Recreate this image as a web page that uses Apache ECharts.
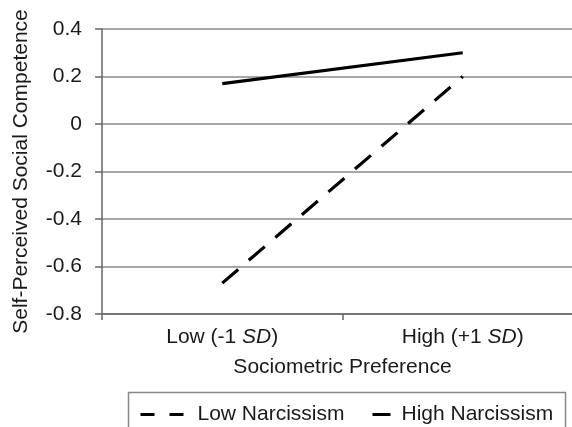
<!DOCTYPE html>
<html>
<head>
<meta charset="utf-8">
<script src="https://cdn.jsdelivr.net/npm/echarts@6/dist/echarts.min.js"></script>
<style>
html,body{margin:0;padding:0;background:#fff;}
#c{width:572px;height:427px;}
</style>
</head>
<body>
<div id="c"></div>
<script>
const categories = ['Low', 'High'];
const categorySigns = ['-1', '+1'];
const lowNarcissism = [-0.67, 0.2];
const highNarcissism = [0.17, 0.30];
const yTickLabels = ['-0.8', '-0.6', '-0.4', '-0.2', '0', '0.2', '0.4'];
const seriesNames = ['Low Narcissism', 'High Narcissism'];
const yMin = -0.8, yMax = 0.4, yStep = 0.2;

const FONT = 'Liberation Sans, Arial, sans-serif';
const FS = 21;
const TXT = '#1a1a1a';
const chart = echarts.init(document.getElementById('c'), null, {renderer: 'canvas'});

chart.setOption({
  animation: false,
  backgroundColor: '#fff',
  textStyle: {fontFamily: FONT, color: TXT},
  grid: {left: 102, top: 29, width: 481, height: 285, containLabel: false, outerBoundsMode: 'none'},
  xAxis: {
    type: 'category',
    data: categories,
    boundaryGap: true,
    name: 'Sociometric Preference',
    nameLocation: 'middle',
    nameGap: 43,
    nameTextStyle: {fontSize: FS, color: TXT, fontFamily: FONT},
    axisLine: {show: true, onZero: false, lineStyle: {color: '#666', width: 1.5}},
    axisTick: {show: true, length: 6, inside: false, interval: 0, lineStyle: {color: '#666', width: 1.5}},
    axisLabel: {
      margin: 13,
      interval: 0,
      fontSize: FS,
      color: TXT,
      fontFamily: FONT,
      formatter: function (v, i) {
        return '{n|' + v + ' (' + categorySigns[i] + ' }{i|SD}{n|)}';
      },
      rich: {
        n: {fontSize: FS, color: TXT, fontFamily: FONT},
        i: {fontSize: FS, color: TXT, fontFamily: FONT, fontStyle: 'italic'}
      }
    },
    splitLine: {show: false}
  },
  yAxis: {
    type: 'value',
    min: yMin,
    max: yMax,
    interval: yStep,
    name: 'Self-Perceived Social Competence',
    nameLocation: 'middle',
    nameGap: 70,
    nameTextStyle: {fontSize: FS, color: TXT, fontFamily: FONT},
    axisLine: {show: true, onZero: false, lineStyle: {color: '#666', width: 1.5}},
    axisTick: {show: true, length: 7, inside: false, lineStyle: {color: '#666', width: 1.5}},
    axisLabel: {
      margin: 20,
      fontSize: FS,
      color: TXT,
      fontFamily: FONT,
      formatter: function (v) {
        return yTickLabels[Math.round((v - yMin) / yStep)];
      }
    },
    splitLine: {show: true, lineStyle: {color: '#8a8a8a', width: 1.5}}
  },
  legend: [
    {
      data: [seriesNames[0]],
      left: 139, top: 404,
      padding: 0,
      itemWidth: 43, itemHeight: 14,
      textStyle: {fontSize: FS, color: TXT, fontFamily: FONT, padding: [0, 0, 0, 9]},
      itemStyle: {opacity: 0, color: 'rgba(0,0,0,0)', borderWidth: 0},
      lineStyle: {type: [14, 15], width: 3, color: '#000', cap: 'butt', opacity: 1}
    },
    {
      data: [seriesNames[1]],
      left: 371, top: 404,
      padding: 0,
      itemWidth: 18, itemHeight: 14,
      textStyle: {fontSize: FS, color: TXT, fontFamily: FONT, padding: [0, 0, 0, 6]},
      itemStyle: {opacity: 0, color: 'rgba(0,0,0,0)', borderWidth: 0},
      lineStyle: {type: 'solid', width: 3, color: '#000', opacity: 1}
    }
  ],
  graphic: [
    {
      type: 'rect',
      left: 126, top: 390,
      shape: {width: 437, height: 60},
      style: {fill: 'none', stroke: '#888', lineWidth: 1.5},
      silent: true
    }
  ],
  series: [
    {
      name: seriesNames[0],
      type: 'line',
      data: lowNarcissism,
      symbol: 'none',
      lineStyle: {color: '#000', width: 3.2, type: [21, 14], cap: 'butt'},
      itemStyle: {color: '#000'}
    },
    {
      name: seriesNames[1],
      type: 'line',
      data: highNarcissism,
      symbol: 'none',
      lineStyle: {color: '#000', width: 3.2, type: 'solid'},
      itemStyle: {color: '#000'}
    }
  ]
});
</script>
</body>
</html>
